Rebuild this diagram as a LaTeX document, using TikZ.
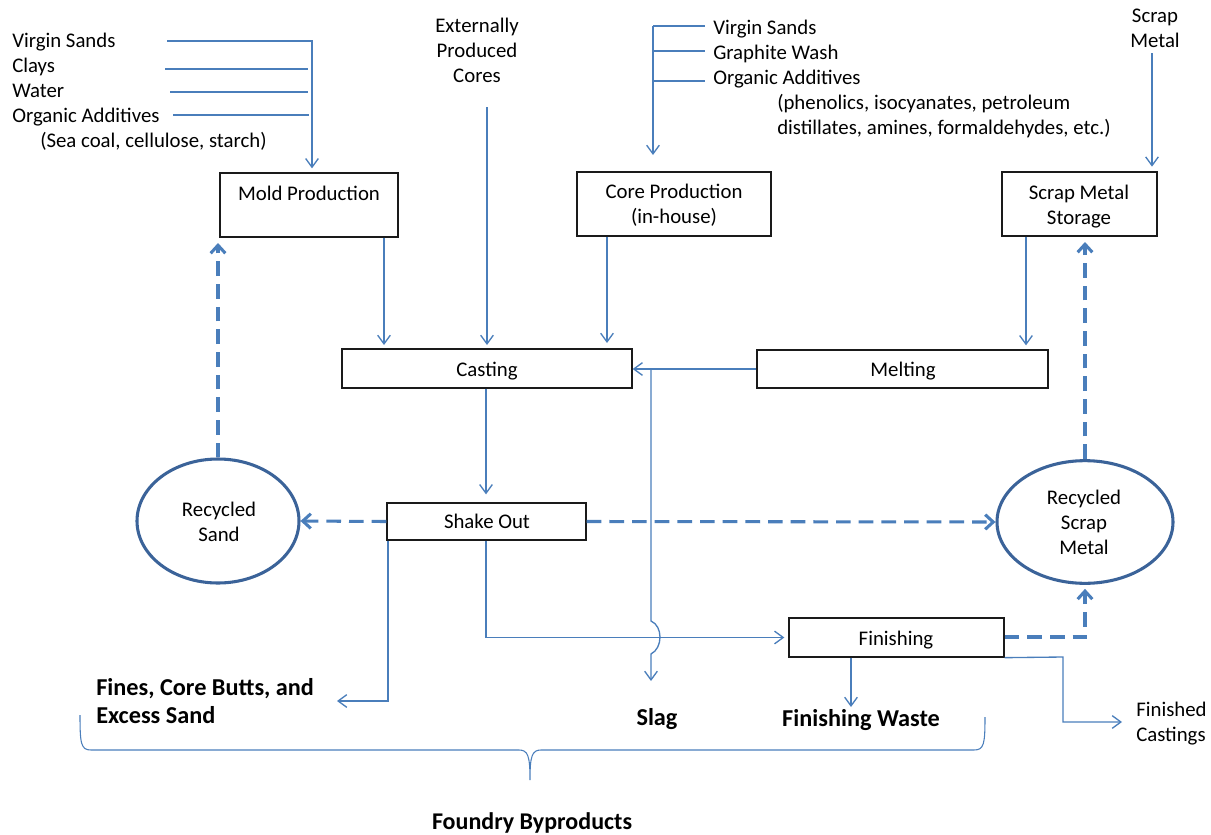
\documentclass[tikz,border=0pt]{standalone}
\usepackage{fontspec}
\setmainfont{Carlito}
\usetikzlibrary{arrows.meta,fit,shapes.geometric}
\definecolor{flowblue}{HTML}{4A7EBB}
\definecolor{ringblue}{HTML}{3B6399}
\definecolor{boxline}{HTML}{1A1A1A}
\begin{document}
\begin{tikzpicture}[x=0.75pt,y=-0.75pt,
  txt/.style={font=\fontsize{15.6}{18.75}\selectfont, inner sep=0pt, anchor=base},
  txtl/.style={txt, anchor=base west},
  bold/.style={font=\fontsize{18.2}{21}\selectfont\bfseries, inner sep=0pt, anchor=base},
  stepbox/.style={draw=boxline, line width=1pt, inner sep=0pt, rectangle},
  ring/.style={draw=ringblue, line width=2.3pt, ellipse},
  feed/.style={draw=flowblue, line width=1pt},
  flow/.style={feed, -{Straight Barb[length=6.5pt,width=9.5pt]}},
  recycle/.style={draw=flowblue, line width=2.3pt, dash pattern=on 11pt off 6pt,
    -{Straight Barb[length=6pt,width=11pt]}},
]
\useasboundingbox (0,0) rectangle (1211,835);

% ---------- process boxes ----------
\node[stepbox, fit={(220,173)(398,237)}] (mold) {};
\node[txt] (moldT) at (309,200) {Mold Production};
\node[stepbox, fit={(577,172)(771,236)}] (core) {};
\node[txt] (coreT1) at (674,198) {Core Production};
\node[txt] (coreT2) at (674,223) {(in-house)};
\node[stepbox, fit={(1002,172)(1157,236)}] (store) {};
\node[txt] (storeT1) at (1079,199) {Scrap Metal};
\node[txt] (storeT2) at (1079,224) {Storage};
\node[stepbox, fit={(342,349)(632,388)}] (cast) {};
\node[txt] (castT) at (487,376) {Casting};
\node[stepbox, fit={(757,350)(1048,388)}] (melt) {};
\node[txt] (meltT) at (903,376) {Melting};
\node[stepbox, fit={(387,503)(586,540)}] (shake) {};
\node[txt] (shakeT) at (487,528) {Shake Out};
\node[stepbox, fit={(789,618)(1004,657)}] (finish) {};
\node[txt] (finishT) at (896,645) {Finishing};

% ---------- recycling loops ----------
\node[ring, minimum width=121.5pt, minimum height=93pt] (rsand) at (218,521) {};
\node[txt] (rsandT1) at (219,516) {Recycled};
\node[txt] (rsandT2) at (219,541) {Sand};
\node[ring, minimum width=132pt, minimum height=92pt] (rscrap) at (1085,522) {};
\node[txt] (rscrapT1) at (1084,504) {Recycled};
\node[txt] (rscrapT2) at (1084,529) {Scrap};
\node[txt] (rscrapT3) at (1084,554) {Metal};

% ---------- raw material labels ----------
\node[txtl] (mVS) at (12,47) {Virgin Sands};
\node[txtl] (mCl) at (12,72) {Clays};
\node[txtl] (mWa) at (12,97) {Water};
\node[txtl] (mOA) at (12,122) {Organic Additives};
\node[txtl] (mSC) at (40,147) {(Sea coal, cellulose, starch)};

\node[txt] (ext1) at (477,32) {Externally};
\node[txt] (ext2) at (477,57) {Produced};
\node[txt] (ext3) at (477,82) {Cores};

\node[txtl] (cVS) at (713,34) {Virgin Sands};
\node[txtl] (cGW) at (713,59) {Graphite Wash};
\node[txtl] (cOA) at (713,84) {Organic Additives};
\node[txtl] (cP1) at (777,109) {(phenolics, isocyanates, petroleum};
\node[txtl] (cP2) at (777,134) {distillates, amines, formaldehydes, etc.)};

\node[txt] (sm1) at (1155,22) {Scrap};
\node[txt] (sm2) at (1155,47) {Metal};

% ---------- outputs ----------
\node[bold, anchor=base west] (fines1) at (96,695) {Fines, Core Butts, and};
\node[bold, anchor=base west] (fines2) at (96,723) {Excess Sand};
\node[bold] (slag) at (657,725) {Slag};
\node[bold] (waste) at (861,726) {Finishing Waste};
\node[txtl] (done1) at (1136,716) {Finished};
\node[txtl] (done2) at (1136,741) {Castings};
\node[bold, font=\fontsize{18}{21}\selectfont\bfseries] (byprod) at (532,829) {Foundry Byproducts};

% ---------- mold inputs ----------
\coordinate (vsA) at (167,41);
\coordinate (vsB) at (312,41);
\draw[flow, shorten >=3pt] (vsA) -| (mold.north -| vsB);
\draw[feed] (165,69) -- (308,69);
\draw[feed] (170,92) -- (308,92);
\draw[feed] (173,115) -- (309,115);

% ---------- core inputs ----------
\coordinate (cTop) at (653,26);
\coordinate (cEnd) at (653,155);
\draw[flow] (cTop) -- (cEnd);
\draw[feed] (cTop) -- (705,26);
\draw[feed] (653,51) -- (705,51);
\draw[feed] (653,81) -- (705,81);

% ---------- feeds into the process ----------
\coordinate (extA) at (487,107);
\draw[flow, shorten >=2.5pt] (extA) -- (extA |- cast.north);
\coordinate (smA) at (1152,53);
\draw[flow, shorten >=3.5pt] (smA) -- (smA |- store.north);
\draw[flow, shorten >=2.5pt] (384,0 |- mold.south) -- (384,0 |- cast.north);
\draw[flow, shorten >=4pt] (607,0 |- core.south) -- (607,0 |- cast.north);
\draw[flow, shorten >=3pt] (1026,0 |- store.south) -- (1026,0 |- melt.north);
\draw[flow] (melt.west |- 0,369) -- (cast.east |- 0,369);
\draw[flow, shorten >=6pt] (486,0 |- cast.south) -- (486,0 |- shake.north);

% ---------- slag, hopping over the finishing feed ----------
\coordinate (slagA) at (651,369);
\coordinate (slagB) at (651,681);
\draw[flow] (slagA) -- (651,621) .. controls (663,626) and (663,648) .. (651,654) -- (slagB);

% ---------- shake out ----------
\draw[recycle] (shake.west) -- (rsand.east);
\draw[recycle] (shake.east) -- (rscrap.west);
\draw[flow, shorten >=3pt] (486,0 |- shake.south) |- (finish.west);
\coordinate (finesEnd) at (337,701);
\draw[flow] (388,0 |- shake.south) |- (finesEnd);

% ---------- recycling back up ----------
\draw[recycle, shorten >=4pt] (rsand.north) -- (rsand.north |- mold.south);
\draw[recycle, shorten >=4pt] (rscrap.north) -- (rscrap.north |- store.south);
\draw[recycle, shorten >=3pt] (finish.east |- 0,637) -| (rscrap.south);

% ---------- finishing ----------
\coordinate (wasteEnd) at (851,707);
\draw[flow] (851,0 |- finish.south) -- (wasteEnd);
\coordinate (doneEnd) at (1122,722);
\draw[flow] (finish.south east) -- (1063,657) |- (doneEnd);

% ---------- byproducts brace ----------
\draw[feed, line width=0.8pt] (80,715) .. controls (80,744) and (81,750) .. (91,750) -- (519,750)
  .. controls (528,750) and (530,756) .. (530,780)
  .. controls (530,756) and (532,750) .. (541,750) -- (974,750)
  .. controls (984,750) and (985,744) .. (985,717);
\end{tikzpicture}
\end{document}
